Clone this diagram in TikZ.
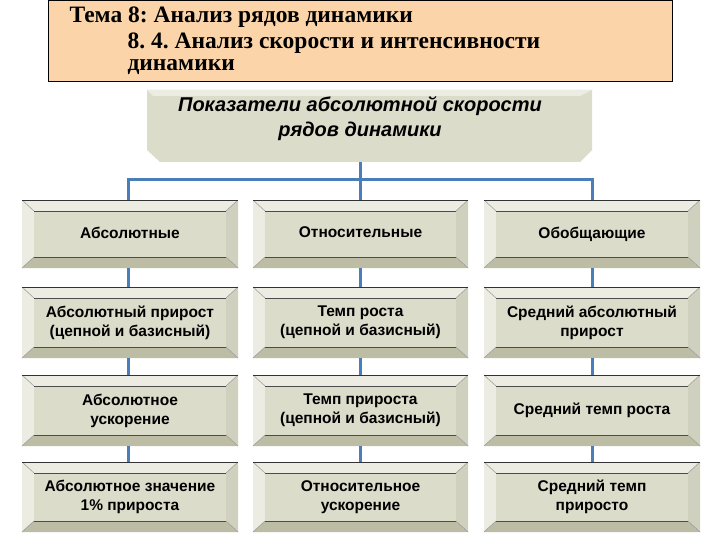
\documentclass[tikz,border=0pt]{standalone}
\usepackage{fontspec}
\setmainfont{Liberation Serif}
\newfontfamily\boxfont{Liberation Sans}
\frenchspacing
\begin{document}
\begin{tikzpicture}[x=1pt,y=-1pt]
\definecolor{peach}{HTML}{FBD5A9}
\definecolor{face}{HTML}{DCDCCB}
\definecolor{lite}{HTML}{ECECE2}
\definecolor{dark}{HTML}{BDBDA6}
\definecolor{conn}{HTML}{4A7EBB}
\tikzset{conn/.style={draw=conn,line width=3pt},
 lbl/.style={font=\boxfont\bfseries\fontsize{15.5}{19}\selectfont,align=center,text=black}}
\useasboundingbox (0,0) rectangle (720,540);
\fill[white] (0,0) rectangle (720,540);
% title
\draw[fill=peach,line width=1pt] (48,1) rectangle (672,82);
\node[anchor=west,font=\bfseries\fontsize{23.5}{25}\selectfont] (t1) at (66,17) {Тема 8: Анализ рядов динамики};
\node[anchor=west,font=\bfseries\fontsize{23.5}{25}\selectfont] (t2) at (124,43) {8. 4. Анализ скорости и интенсивности};
\node[anchor=west,font=\bfseries\fontsize{23.5}{25}\selectfont] (t3) at (124,67) {динамики};
% top box
\fill[face] (147,90) -- (592,90) -- (592,150) -- (580,162) -- (160,162) -- (147,150) -- cycle;
\fill[lite] (147,90) -- (592,90) -- (580,96) -- (153,96) -- cycle;
\node[font=\boxfont\bfseries\itshape\fontsize{20}{25}\selectfont,align=center] (top) at (360,119) {Показатели абсолютной скорости\\рядов динамики};
\newcommand\bbox[6]{%
 \fill[lite] (#2,#3) rectangle (#4,#5);
 \fill[dark] (#2,#5) -- (#2+12,#5-11) -- (#4-12,#5-11) -- (#4,#5) -- cycle;
 \fill[dark!60!lite] (#4,#3) -- (#4-12,#3+11) -- (#4-12,#5-11) -- (#4,#5) -- cycle;
 \fill[face] (#2+12,#3+11) rectangle (#4-12,#5-11);
 \draw[black!70,line width=0.5pt] (#2+12,#3+11) -- (#4-12,#3+11) (#2+12,#5-11) -- (#4-12,#5-11);
 \draw[black!40,line width=0.5pt] (#2,#3) -- (#2+12,#3+11) (#4,#3) -- (#4-12,#3+11) (#2,#5) -- (#2+12,#5-11) (#4,#5) -- (#4-12,#5-11);
 \draw[black!80,line width=0.6pt] (#2,#3) -- (#4,#3);
 \node[lbl] (#1) at ({(#2+#4)/2},{(#3+#5)/2}) {#6\vphantom{Ay}};}
\bbox{a1}{22}{200}{238}{268}{Абсолютные}
\bbox{b1}{253}{200}{468}{268}{Относительные}
\bbox{c1}{484}{200}{700}{268}{Обобщающие}
\bbox{a2}{22}{287}{238}{358}{Абсолютный прирост\\(цепной и базисный)}
\bbox{b2}{253}{287}{468}{358}{Темп роста\\(цепной и базисный)}
\bbox{c2}{484}{287}{700}{358}{Средний абсолютный\\прирост}
\bbox{a3}{22}{375}{238}{446}{Абсолютное\\ускорение}
\bbox{b3}{253}{375}{468}{446}{Темп прироста\\(цепной и базисный)}
\bbox{c3}{484}{375}{700}{446}{Средний темп роста}
\bbox{a4}{22}{462}{238}{532}{Абсолютное значение\\1\% прироста}
\bbox{b4}{253}{462}{468}{532}{Относительное\\ускорение}
\bbox{c4}{484}{462}{700}{532}{Средний темп\\приросто}
% connectors
\coordinate (j) at (360,180);
\draw[conn] (360,162) -- (j);
\draw[conn] (128,200) -- (128,180) -- (592,180) -- (592,200);
\draw[conn] (j) -- (360,200);
\foreach \x in {128,360,592}{
 \draw[conn] (\x,268) -- (\x,287);
 \draw[conn] (\x,358) -- (\x,375);
 \draw[conn] (\x,446) -- (\x,462);}
\end{tikzpicture}
\end{document}
